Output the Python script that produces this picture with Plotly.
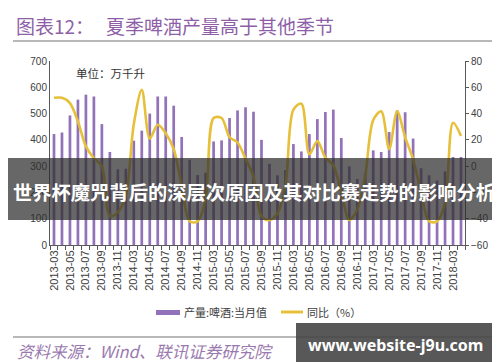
import plotly.graph_objects as go

months = [
    "2013-03", "2013-04", "2013-05", "2013-06", "2013-07", "2013-08", "2013-09", "2013-10", "2013-11", "2013-12",
    "2014-03", "2014-04", "2014-05", "2014-06", "2014-07", "2014-08", "2014-09", "2014-10", "2014-11", "2014-12",
    "2015-03", "2015-04", "2015-05", "2015-06", "2015-07", "2015-08", "2015-09", "2015-10", "2015-11", "2015-12",
    "2016-03", "2016-04", "2016-05", "2016-06", "2016-07", "2016-08", "2016-09", "2016-10", "2016-11", "2016-12",
    "2017-03", "2017-04", "2017-05", "2017-06", "2017-07", "2017-08", "2017-09", "2017-10", "2017-11", "2017-12",
    "2018-03", "2018-04",
]

production = [
    422, 428, 493, 553, 572, 565, 460, 354, 288, 290,
    397, 435, 500, 565, 565, 530, 411, 324, 266, 275,
    394, 398, 483, 512, 524, 507, 400, 309, 265, 285,
    384, 356, 422, 479, 506, 515, 407, 299, 251, 274,
    360, 354, 430, 512, 505, 405, 292, 265, 245, 280,
    335, 335,
]

yoy = [
    52, 52, 48, 34, 15, 6, 0, -38, -35, -22,
    32, 58, 21, 31.5, 25, 13, -15, -42, -42, -25,
    36.6, 36.6, 22, 18, 5.5, -8, -38, -41, -36, -15,
    43, 47.5, 9, 19, 6.5, 0.5, -20, -41, -33, -7,
    35, 41.7, 13, 41.7, 22, 5, -20, -42, -42, -28,
    33, 23,
]

tick_text = [m if i % 2 == 0 else "" for i, m in enumerate(months)]

series_names = ["产量:啤酒:当月值", "同比（%）"]

W, H = 500, 362
L, R, T, B = 42, 43, 53, 125
PW, PH = W - L - R, H - T - B


def px(x):
    return (x - L) / PW


def py(y):
    return (H - B - y) / PH


BAR_C = "#9272B8"
LINE_C = "#E6C03A"
AX_C = "#595959"
NUM_FONT = "Liberation Sans, Arial, sans-serif"
CJK = "Noto Sans CJK SC, sans-serif"

fig = go.Figure()
fig.add_trace(go.Bar(x=months, y=production, name=series_names[0],
                     marker=dict(color=BAR_C, line=dict(width=0)), yaxis="y"))
fig.add_trace(go.Scatter(x=months, y=yoy, name=series_names[1], mode="lines",
                         line=dict(color=LINE_C, width=2.6, shape="spline", smoothing=0.9),
                         yaxis="y2"))

fig.update_layout(
    width=W, height=H,
    margin=dict(l=L, r=R, t=T, b=B, pad=0),
    paper_bgcolor="white", plot_bgcolor="white",
    showlegend=False,
    bargap=0.66,
    xaxis=dict(type="category", tickmode="array", tickvals=months, ticktext=tick_text,
               tickangle=-90, ticks="outside", tickson="boundaries", ticklen=4,
               tickcolor=AX_C, showline=True, linecolor=AX_C, linewidth=1,
               showgrid=False, zeroline=False,
               tickfont=dict(family=NUM_FONT, size=11, color="#404040")),
    yaxis=dict(range=[0, 700], dtick=100, showline=True, linecolor=AX_C, linewidth=1,
               ticks="", showgrid=False, zeroline=False,
               tickfont=dict(family=NUM_FONT, size=10, color="#404040")),
    yaxis2=dict(range=[-60, 80], dtick=20, overlaying="y", side="right",
                showline=True, linecolor=AX_C, linewidth=1, ticks="outside", ticklen=3,
                tickcolor=AX_C, showgrid=False, zeroline=False,
                tickfont=dict(family=NUM_FONT, size=10, color="#404040")),
)

shapes = []
annotations = []

# title rule and bottom rule
shapes.append(dict(type="line", xref="paper", yref="paper", x0=px(5), x1=px(490), y0=py(33), y1=py(33),
                   line=dict(color="#A0A0A0", width=1.5)))
shapes.append(dict(type="line", xref="paper", yref="paper", x0=px(5), x1=px(490), y0=py(329), y1=py(329),
                   line=dict(color="#A0A0A0", width=1.5)))

TITLE_C = "#8E5FA8"
annotations.append(dict(xref="paper", yref="paper", x=px(6), y=py(18), xanchor="left", yanchor="middle",
                        text="图表12：", showarrow=False,
                        font=dict(family=CJK, size=19, color=TITLE_C)))
annotations.append(dict(xref="paper", yref="paper", x=px(96), y=py(18), xanchor="left", yanchor="middle",
                        text="夏季啤酒产量高于其他季节", showarrow=False,
                        font=dict(family=CJK, size=19, color=TITLE_C)))

annotations.append(dict(xref="paper", yref="paper", x=px(66), y=py(65), xanchor="left", yanchor="middle",
                        text="单位：万千升", showarrow=False,
                        font=dict(family=CJK, size=11.5, color="#333333")))

# legend
shapes.append(dict(type="rect", xref="paper", yref="paper", x0=px(148), x1=px(172), y0=py(302), y1=py(307),
                   fillcolor=BAR_C, line=dict(width=0)))
shapes.append(dict(type="line", xref="paper", yref="paper", x0=px(273), x1=px(295), y0=py(304), y1=py(304),
                   line=dict(color=LINE_C, width=3)))
annotations.append(dict(xref="paper", yref="paper", x=px(174), y=py(304), xanchor="left", yanchor="middle",
                        text=series_names[0], showarrow=False,
                        font=dict(family=CJK, size=11, color="#404040")))
annotations.append(dict(xref="paper", yref="paper", x=px(297), y=py(304), xanchor="left", yanchor="middle",
                        text=series_names[1], showarrow=False,
                        font=dict(family=CJK, size=11, color="#404040")))

# source
annotations.append(dict(xref="paper", yref="paper", x=px(7), y=py(343), xanchor="left", yanchor="middle",
                        text="<i>资料来源：Wind、联讯证券研究院</i>", showarrow=False,
                        font=dict(family=CJK, size=16.5, color="#9A7AAE")))

# overlay banner
shapes.append(dict(type="rect", xref="paper", yref="paper", x0=px(0), x1=px(500), y0=py(150), y1=py(212),
                   fillcolor="rgba(45,45,45,0.72)", line=dict(width=0), layer="above"))
annotations.append(dict(xref="paper", yref="paper", x=px(3), y=py(184), xanchor="left", yanchor="middle",
                        text="<b>世界杯魔咒背后的深层次原因及其对比赛走势的影响分析</b>", showarrow=False,
                        font=dict(family=CJK, size=19.3, color="white")))

# watermark box
shapes.append(dict(type="rect", xref="paper", yref="paper", x0=px(288), x1=px(491), y0=py(315), y1=py(362),
                   fillcolor="rgba(70,70,70,0.9)", line=dict(width=0), layer="above"))
annotations.append(dict(xref="paper", yref="paper", x=px(298), y=py(337), xanchor="left", yanchor="middle",
                        text="<b>www.website-j9u.com</b>", showarrow=False,
                        font=dict(family="Noto Sans, DejaVu Sans, sans-serif", size=16, color="white")))

fig.update_layout(shapes=shapes, annotations=annotations)
fig.write_html("out.html")
